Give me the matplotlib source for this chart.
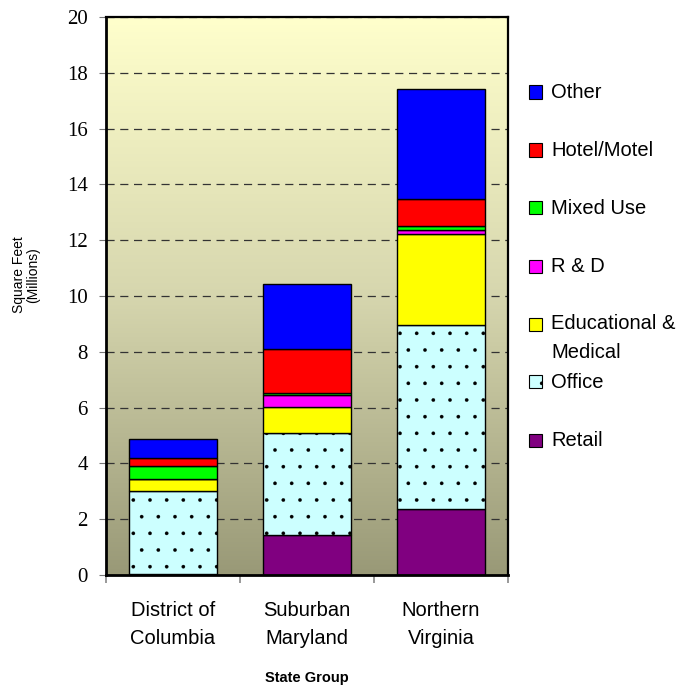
import matplotlib.pyplot as plt
import matplotlib.patches as mpatches
from matplotlib.colors import LinearSegmentedColormap
import numpy as np

# data (millions of square feet)
groups = ['District of\nColumbia', 'Suburban\nMaryland', 'Northern\nVirginia']
categories = ['Retail', 'Office', 'Educational &\nMedical', 'R & D', 'Mixed Use', 'Hotel/Motel', 'Other']
retail = [0.05, 1.43, 2.35]
office = [2.95, 3.65, 6.60]
educational = [0.45, 0.93, 3.26]
r_and_d = [0.0, 0.45, 0.14]
mixed_use = [0.47, 0.08, 0.17]
hotel = [0.29, 1.56, 0.95]
other = [0.65, 2.33, 3.94]
series = [retail, office, educational, r_and_d, mixed_use, hotel, other]
colors = ['#800080', '#CCFFFF', '#FFFF00', '#FF00FF', '#00FF00', '#FF0000', '#0000FF']
hatches = [None, '.', None, None, None, None, None]
yticks = [0, 2, 4, 6, 8, 10, 12, 14, 16, 18, 20]

plt.rcParams['hatch.linewidth'] = 0.2
plt.rcParams['hatch.color'] = '#333333'

W, H = 691, 688
fig = plt.figure(figsize=(W / 100, H / 100), dpi=100)
ax = fig.add_axes([106 / W, 1 - 575 / H, (508 - 106) / W, (575 - 17) / H])

# gradient background
cmap = LinearSegmentedColormap.from_list('bg', ['#999977', '#D6D6AE', '#FFFFCC'])
grad = np.linspace(0, 1, 256).reshape(-1, 1)
ax.imshow(grad, aspect='auto', cmap=cmap, origin='lower',
          extent=[-0.5, 2.5, 0, 20], zorder=0)

x = np.arange(len(groups))
bottom = np.zeros(len(groups))
for vals, col, hat in zip(series, colors, hatches):
    ax.bar(x, vals, 0.66, bottom=bottom, color=col, edgecolor='black',
           linewidth=1.0, hatch=hat, zorder=2)
    bottom += np.array(vals)

ax.set_xlim(-0.5, 2.5)
ax.set_ylim(0, 20)
ax.set_yticks(yticks)
ax.set_yticklabels([str(v) for v in yticks], family='Liberation Serif', fontsize=15)
ax.yaxis.grid(True, color='#333333', linestyle=(0, (6.5, 4.5)), linewidth=0.9)
ax.set_axisbelow(True)
ax.tick_params(axis='y', direction='out', length=5, color='#777777', pad=8)

ax.set_xticks(x)
ax.set_xticklabels(groups, family='Liberation Sans', fontsize=14.5, linespacing=1.55)
ax.set_xticks([-0.5, 0.5, 1.5, 2.5], minor=True)
ax.tick_params(axis='x', which='major', length=0, pad=19)
ax.tick_params(axis='x', which='minor', direction='out', length=6, color='#888888', width=1.2)

for side in ['left', 'bottom']:
    ax.spines[side].set_linewidth(2.0)
for side in ['top', 'right']:
    ax.spines[side].set_linewidth(1.6)

ax.set_ylabel('Square Feet\n(Millions)', family='Liberation Sans', fontsize=10,
              linespacing=1.0)
ax.yaxis.set_label_coords(-0.164, 0.538)
ax.set_xlabel('State Group', family='Liberation Sans', fontsize=10.5, fontweight='bold',
              labelpad=17)

# legend drawn beside the plot, top entry first
for i, (label, col, hat) in enumerate(zip(categories[::-1], colors[::-1], hatches[::-1])):
    yc = 92 + 58 * i
    rect = mpatches.Rectangle((529 / W, 1 - (yc + 6.5) / H), 13 / W, 13 / H,
                              transform=fig.transFigure, facecolor=col,
                              edgecolor='black', linewidth=0.8, hatch=hat)
    fig.patches.append(rect)
    for j, line in enumerate(label.split('\n')):
        fig.text(551 / W, 1 - (yc + 28 * j) / H, line, family='Liberation Sans',
                 fontsize=14.5, va='center', ha='left')

fig.savefig('out.png', dpi=100)
